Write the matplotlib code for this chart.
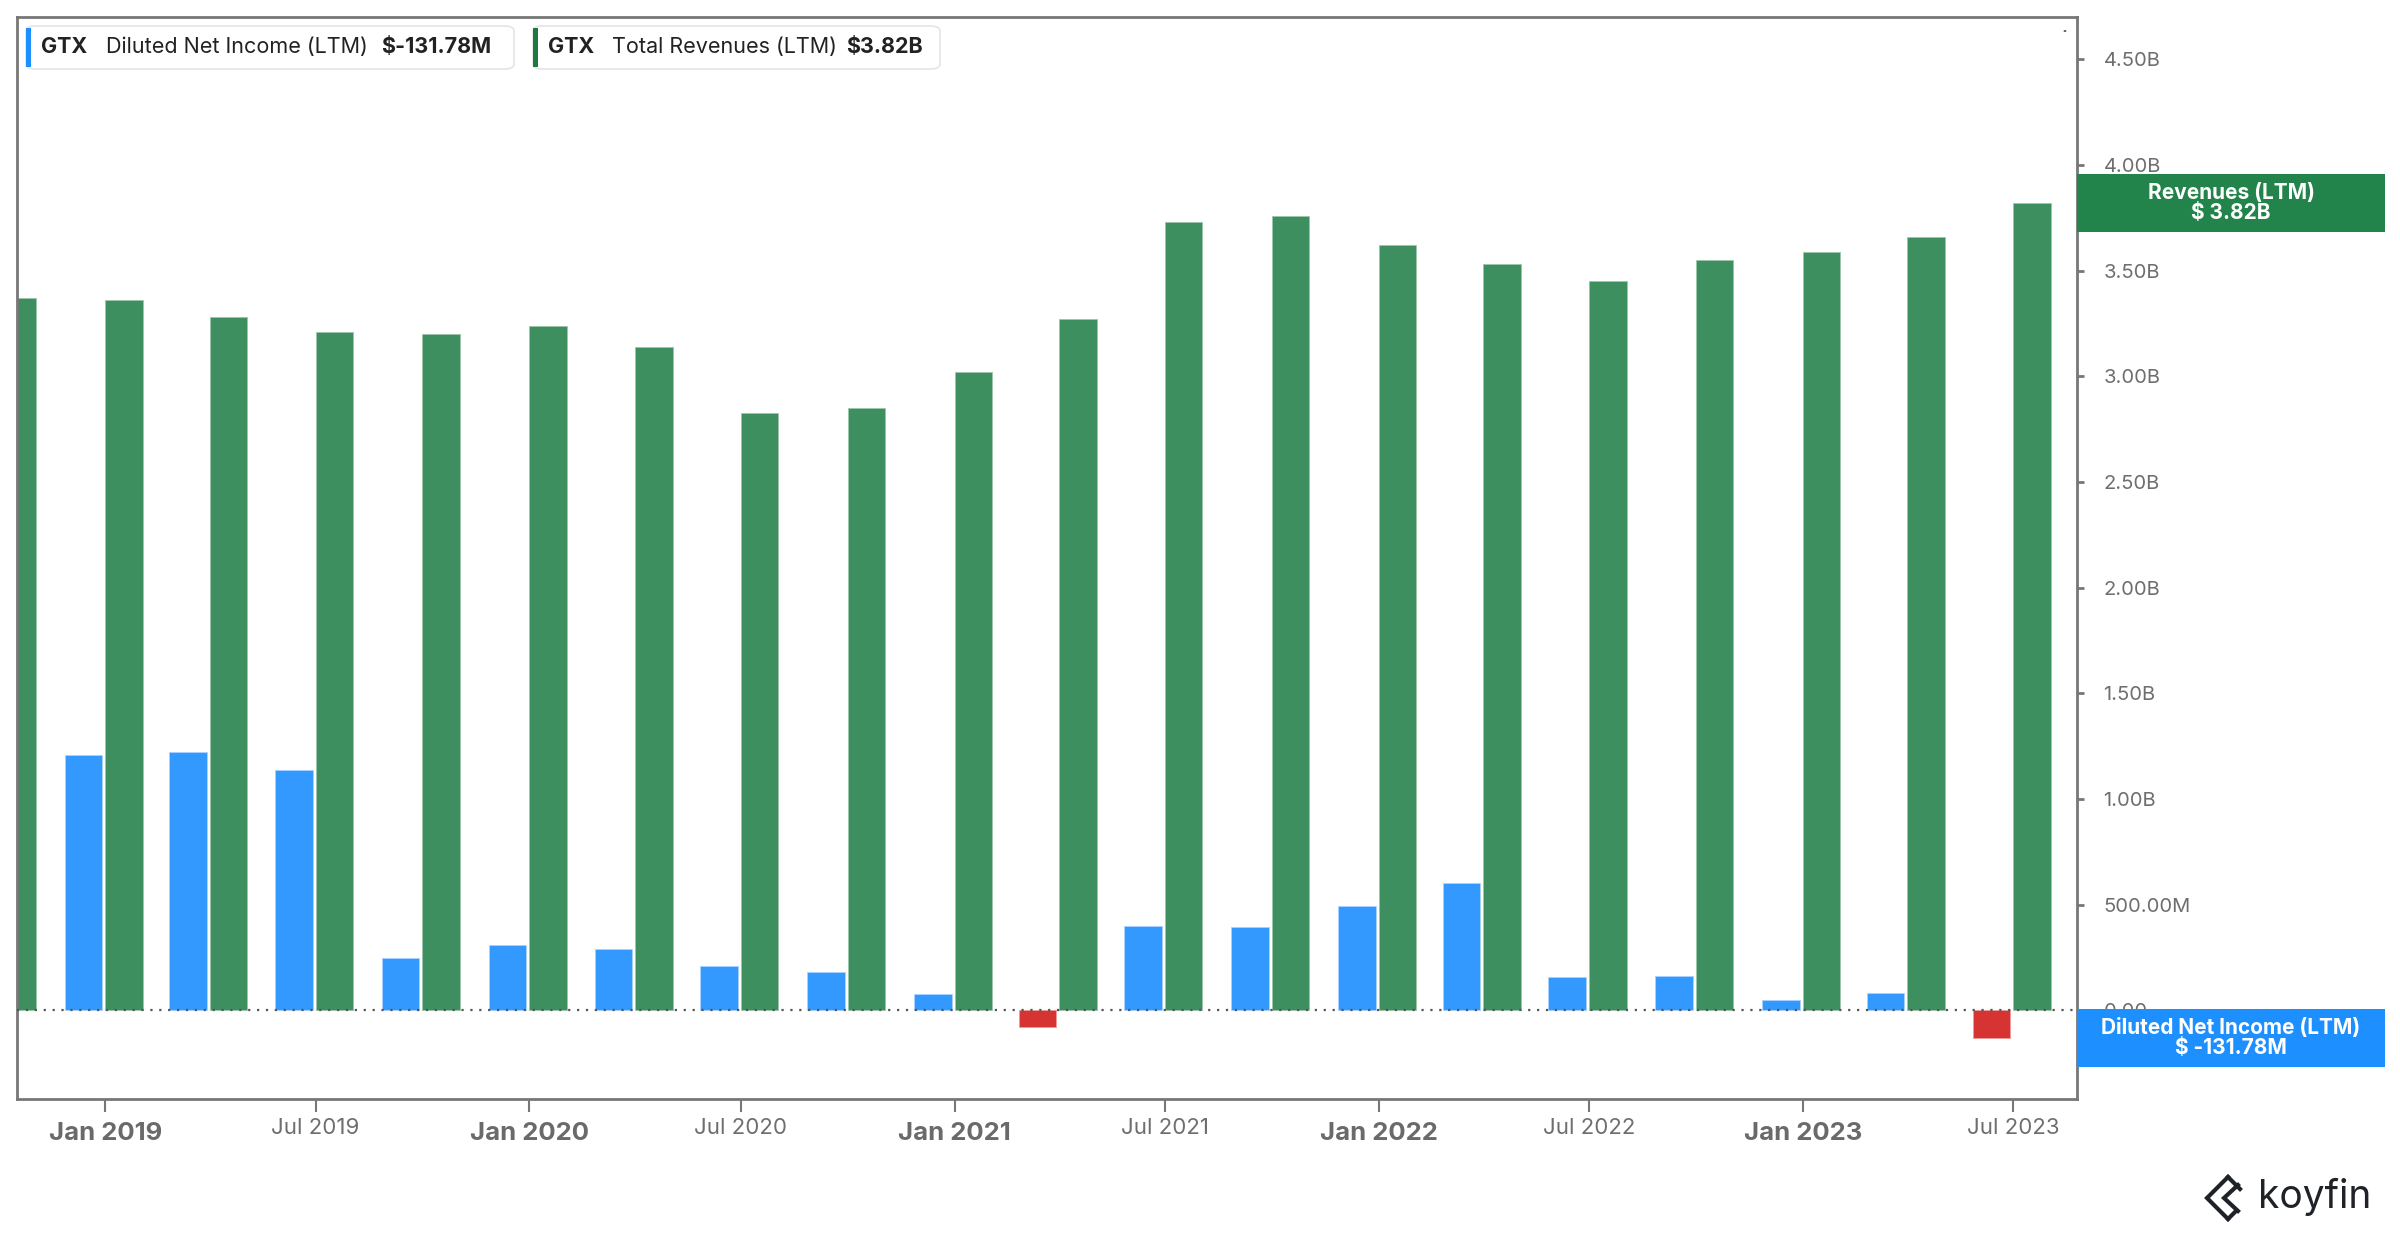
import numpy as np
import pandas as pd
import matplotlib.pyplot as plt
import matplotlib.dates as mdates
from matplotlib.patches import Rectangle, FancyBboxPatch, Circle
from matplotlib.lines import Line2D
from matplotlib.transforms import blended_transform_factory

plt.rcParams['font.family'] = ['Inter', 'DejaVu Sans']

# ==========================
# data (billions USD, LTM, quarterly)
# ==========================

PERIODS = [
    "2018-10-01", "2019-01-01", "2019-04-01", "2019-07-01", "2019-10-01",
    "2020-01-01", "2020-04-01", "2020-07-01", "2020-10-01", "2021-01-01",
    "2021-04-01", "2021-07-01", "2021-10-01", "2022-01-01", "2022-04-01",
    "2022-07-01", "2022-10-01", "2023-01-01", "2023-04-01", "2023-07-01",
]

REVENUE_B = [
    3.37, 3.36, 3.28, 3.21, 3.20,
    3.24, 3.14, 2.825, 2.85, 3.02,
    3.27, 3.73, 3.76, 3.62, 3.53,
    3.45, 3.55, 3.59, 3.66, 3.82,
]

NET_INCOME_B = [
    np.nan, 1.207, 1.22, 1.136, 0.245,
    0.31, 0.29, 0.21, 0.18, 0.079,
    -0.079, 0.40, 0.393, 0.495, 0.60,
    0.155, 0.16, 0.047, 0.08, -0.13178,
]

X_LABEL_DATES = [
    "2019-01-01", "2019-07-01", "2020-01-01", "2020-07-01", "2021-01-01",
    "2021-07-01", "2022-01-01", "2022-07-01", "2023-01-01", "2023-07-01",
]
X_LABELS = [
    "Jan 2019", "Jul 2019", "Jan 2020", "Jul 2020", "Jan 2021",
    "Jul 2021", "Jan 2022", "Jul 2022", "Jan 2023", "Jul 2023",
]

Y_TICKS = [0, 0.5, 1.0, 1.5, 2.0, 2.5, 3.0, 3.5, 4.0, 4.5]
Y_LABELS = ["0.00", "500.00M", "1.00B", "1.50B", "2.00B",
            "2.50B", "3.00B", "3.50B", "4.00B", "4.50B"]

BLUE = "#3399ff"
GREEN = "#3d8f5f"
RED = "#d63333"
GRAY = "#777777"

W, H = 2400, 1240


def fx(px):
    return px / W


def fy(py):
    return 1 - py / H


# ==========================
# figure
# ==========================

fig = plt.figure(figsize=(24, 12.4), dpi=100)
ax = fig.add_axes([fx(17), fy(1099), fx(2077) - fx(17), fy(17) - fy(1099)])

x = mdates.date2num(pd.to_datetime(PERIODS))
bar_w = 32.3
gap = 2.6

ax.bar(x, REVENUE_B, width=bar_w, align="edge", color=GREEN,
       edgecolor="#9cc7ac", linewidth=0.6, zorder=2)

ni_colors = [RED if v < 0 else BLUE for v in NET_INCOME_B]
ni_edges = ["#f09a9a" if v < 0 else "#a9d2ff" for v in NET_INCOME_B]
ax.bar(x - gap - bar_w, NET_INCOME_B, width=bar_w, align="edge",
       color=ni_colors, edgecolor=ni_edges, linewidth=0.6, zorder=2)

ax.axhline(0, color="#555555", linestyle=(0, (1, 3)), linewidth=1.6, zorder=3)

ax.set_xlim(mdates.date2num(pd.Timestamp("2018-10-17")),
            mdates.date2num(pd.Timestamp("2023-08-25")))
ax.set_ylim(-0.42, 4.70)

# spines
for s in ax.spines.values():
    s.set_color(GRAY)
    s.set_linewidth(2)

# y axis on the right
ax.yaxis.tick_right()
ax.set_yticks(Y_TICKS)
ax.set_yticklabels(Y_LABELS)
ax.tick_params(axis="y", direction="out", length=5, width=2, color=GRAY,
               labelcolor="#6e6e6e", labelsize=14.5, pad=14)

# x ticks, labels as text
xt = mdates.date2num(pd.to_datetime(X_LABEL_DATES))
ax.set_xticks(xt)
ax.set_xticklabels([""] * len(xt))
ax.tick_params(axis="x", direction="out", length=9, width=1.5, color=GRAY)

trans_x = blended_transform_factory(ax.transData, ax.transAxes)
ax_h = (fy(17) - fy(1099)) * H
for d, lab in zip(xt, X_LABELS):
    if lab.startswith("Jan"):
        ax.text(d, -(1133 - 1099) / ax_h, lab, transform=trans_x,
                ha="center", va="center", fontsize=18.5, fontweight="bold",
                color="#6a6a6a")
    else:
        ax.text(d, -(1128 - 1099) / ax_h, lab, transform=trans_x,
                ha="center", va="center", fontsize=16, color="#6e6e6e")

# ==========================
# right side value boxes
# ==========================

trans_y = blended_transform_factory(ax.transAxes, ax.transData)
ax_w = (fx(2077) - fx(17)) * W
box_w = (2385 - 2077) / ax_w
box_h = 58 / ax_h * (4.70 + 0.42)

rev_last = REVENUE_B[-1]
ni_last = NET_INCOME_B[-1]

ax.add_patch(Rectangle((1.0, rev_last - box_h / 2), box_w, box_h,
                       transform=trans_y, facecolor="#23844b",
                       edgecolor="none", clip_on=False, zorder=6))
ax.text(1.0 + box_w / 2, rev_last, "Revenues (LTM)\n$ %.2fB" % rev_last,
        transform=trans_y, ha="center", va="center", color="white",
        fontsize=15, fontweight="bold", linespacing=0.95, zorder=7)

ax.add_patch(Rectangle((1.0, ni_last - box_h / 2), box_w, box_h,
                       transform=trans_y, facecolor="#1e8fff",
                       edgecolor="none", clip_on=False, zorder=6))
ax.text(1.0 + box_w / 2, ni_last,
        "Diluted Net Income (LTM)\n$ %.2fM" % (ni_last * 1000),
        transform=trans_y, ha="center", va="center", color="white",
        fontsize=15, fontweight="bold", linespacing=0.95, zorder=7)

# ==========================
# legend chips
# ==========================

chips = [
    (26, 514, "#1e8fff", 41, 106, 381,
     "Diluted Net Income (LTM)", "$%.2fM" % (ni_last * 1000)),
    (533, 940, "#1a7a40", 548, 612, 846,
     "Total Revenues (LTM)", "$%.2fB" % rev_last),
]
for x0, x1, col, tx0, tx1, tx2, name, val in chips:
    fig.patches.append(FancyBboxPatch(
        (fx(x0), fy(69)), fx(x1) - fx(x0), fy(26) - fy(69),
        boxstyle="round,pad=0,rounding_size=0.004",
        transform=fig.transFigure, facecolor="white",
        edgecolor="#e4e4e4", linewidth=1.2, zorder=5))
    fig.patches.append(Rectangle(
        (fx(x0), fy(67)), fx(5), fy(28) - fy(67),
        transform=fig.transFigure, facecolor=col, edgecolor="none",
        zorder=6))
    fig.text(fx(tx0), fy(47), "GTX", ha="left", va="center",
             fontsize=15.5, fontweight="bold", color="#222222", zorder=7)
    fig.text(fx(tx1), fy(47), name, ha="left", va="center",
             fontsize=15.5, color="#222222", zorder=7)
    fig.text(fx(tx2), fy(47), val, ha="left", va="center",
             fontsize=15.5, fontweight="bold", color="#222222", zorder=7)

# small dot near top right corner
fig.patches.append(Circle((fx(2065), fy(31)), 0.0006,
                          transform=fig.transFigure, facecolor="#222222",
                          edgecolor="none"))

# ==========================
# koyfin logo
# ==========================

logo_col = "#1f2328"
for pts in [
    [(2228, 1177), (2207, 1198), (2228, 1219)],
    [(2238, 1185), (2224, 1198), (2238, 1211)],
    [(2228, 1177), (2240, 1189)],
    [(2228, 1219), (2236, 1211)],
]:
    xs = [fx(p[0]) for p in pts]
    ys = [fy(p[1]) for p in pts]
    fig.lines.append(Line2D(xs, ys, transform=fig.transFigure,
                            color=logo_col, linewidth=3.0,
                            solid_joinstyle="miter"))
fig.text(fx(2258), fy(1197), "koyfin", ha="left", va="center",
         fontsize=28, color=logo_col)

plt.savefig("out.png", dpi=100)
plt.close()
